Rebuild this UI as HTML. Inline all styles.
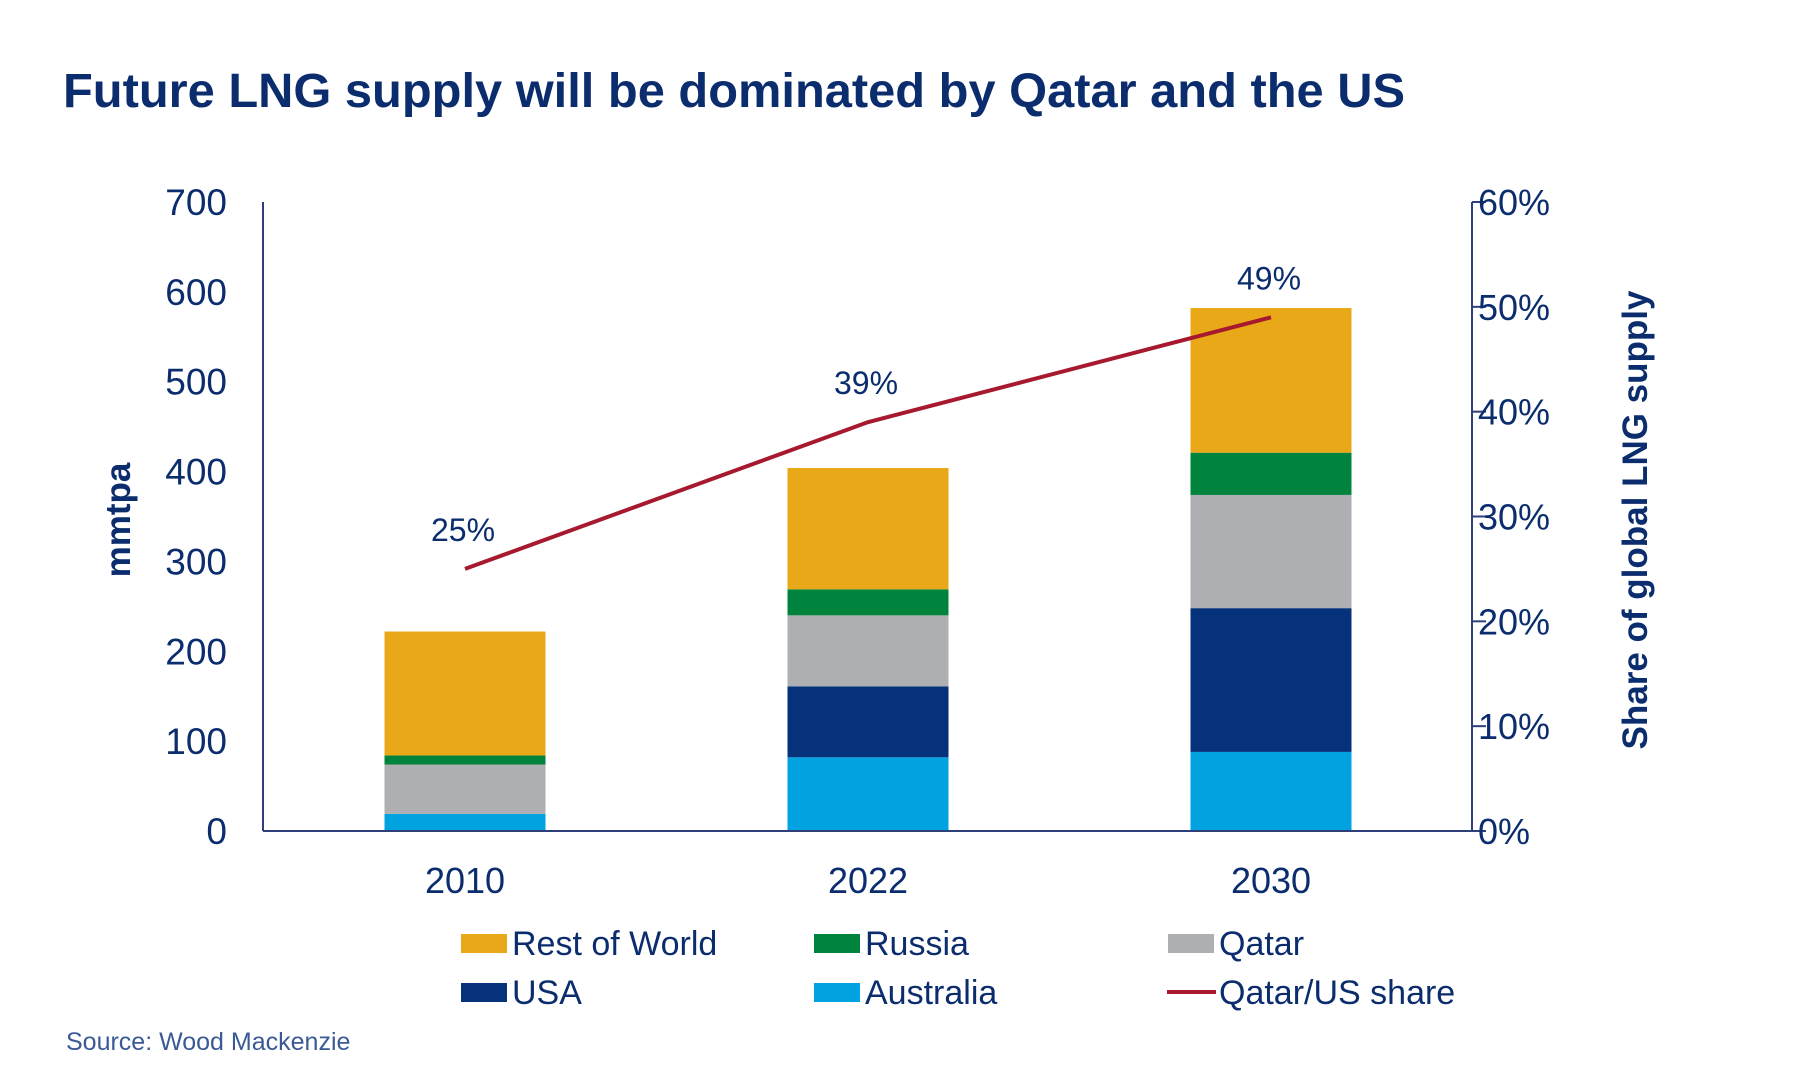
<!DOCTYPE html>
<html><head><meta charset="utf-8"><style>
html,body{margin:0;padding:0;background:#fff;}
svg{display:block;font-family:"Liberation Sans Narrow","Liberation Sans",sans-serif;}
</style></head><body>
<svg id="chart" width="1800" height="1080" viewBox="0 0 1800 1080">
<text x="63" y="107" font-size="48" font-weight="bold" fill="#0b2d6e" textLength="1342" lengthAdjust="spacingAndGlyphs" font-family="Liberation Sans, sans-serif">Future LNG supply will be dominated by Qatar and the US</text>
<g id="plot"></g>
<text x="66" y="1050" font-size="25" fill="#3a5a96">Source: Wood Mackenzie</text>
</svg>
<script>
const categories = ["2010","2022","2030"];
const seriesNames = ["Australia","USA","Qatar","Russia","Rest of World"];
const australia = [19, 82, 88];
const usa = [0, 79, 160];
const qatar = [55, 79, 126];
const russia = [10, 29, 47];
const restOfWorld = [138, 135, 161];
const share = [25, 39, 49];
const leftTicks = [0,100,200,300,400,500,600,700];
const rightTicks = [0,10,20,30,40,50,60];
const colors = ["#00a3e0","#05327a","#adafb2","#00843d","#e8a817"];

const NS="http://www.w3.org/2000/svg";
const g=document.getElementById('plot');
const X0=263, X1=1472, Y0=831, Y1=202;
const yL=v=>Y0-(v/700)*(Y0-Y1);
const yR=v=>Y0-(v/60)*(Y0-Y1);
const firstC=465, lastC=1271;
const xC=i=>firstC+i*(lastC-firstC)/(categories.length-1);
const bw=161;
function mk(t,a){const e=document.createElementNS(NS,t);for(const k in a)e.setAttribute(k,a[k]);g.appendChild(e);return e;}
const navy="#0b2d6e";
const series=[australia,usa,qatar,russia,restOfWorld];
categories.forEach((c,i)=>{
  let base=0;
  series.forEach((s,j)=>{
    const r=mk('rect',{x:xC(i)-bw/2,y:yL(base+s[i]),width:bw,height:yL(base)-yL(base+s[i]),fill:colors[j]});
    
    
    base+=s[i];
  });
  const t=mk('text',{x:xC(i),y:893,'font-size':36,fill:navy,'text-anchor':'middle'});
  t.textContent=c;
  
  
});
let a=mk('line',{x1:X0,y1:Y1,x2:X0,y2:Y0,stroke:"#2e3f7a",'stroke-width':2});


a=mk('line',{x1:X0,y1:Y0,x2:X1,y2:Y0,stroke:"#2e3f7a",'stroke-width':2});


a=mk('line',{x1:X1,y1:Y1,x2:X1,y2:Y0,stroke:"#2e3f7a",'stroke-width':2});


leftTicks.forEach(v=>{
  const t=mk('text',{x:227,y:yL(v)+13,'font-size':37,fill:navy,'text-anchor':'end'});
  t.textContent=v;
  
  
});
rightTicks.forEach(v=>{
  const l=mk('line',{x1:X1,y1:yR(v),x2:X1+14,y2:yR(v),stroke:"#2e3f7a",'stroke-width':2});
  
  
  const t=mk('text',{x:1478,y:yR(v)+13,'font-size':36,fill:navy,'font-family':'Liberation Sans, sans-serif'});
  t.textContent=v+'%';
  
  
});
let t=mk('text',{x:0,y:0,'font-size':35,fill:navy,'font-weight':'bold','text-anchor':'middle',transform:'translate(130,520) rotate(-90)','font-family':'Liberation Sans, sans-serif'});
t.textContent='mmtpa';


t=mk('text',{x:0,y:0,'font-size':35,fill:navy,'font-weight':'bold','text-anchor':'middle',transform:'translate(1647,520) rotate(-90)','font-family':'Liberation Sans, sans-serif'});
t.textContent='Share of global LNG supply';


const pts=share.map((v,i)=>xC(i)+','+yR(v)).join(' ');
const pl=mk('polyline',{points:pts,fill:'none',stroke:'#a6192e','stroke-width':4});


share.forEach((v,i)=>{
  const t=mk('text',{x:xC(i)-2,y:yR(v)-28,'font-size':32,fill:navy,'text-anchor':'middle'});
  t.textContent=v+'%';
  
  
});
const leg=[["Rest of World",colors[4],461,943],["Russia",colors[3],814,943],["Qatar",colors[2],1168,943],
["USA",colors[1],461,992],["Australia",colors[0],814,992]];
leg.forEach(([n,c,x,y])=>{
  const r=mk('rect',{x:x,y:y-9,width:46,height:19,fill:c});
  
  
  const t=mk('text',{x:x+51,y:y+12,'font-size':34,fill:navy});
  t.textContent=n;
  
  
});
const ll=mk('line',{x1:1167,y1:992,x2:1216,y2:992,stroke:'#a6192e','stroke-width':4});


t=mk('text',{x:1219,y:1004,'font-size':34,fill:navy});
t.textContent='Qatar/US share';


</script>
</body></html>
